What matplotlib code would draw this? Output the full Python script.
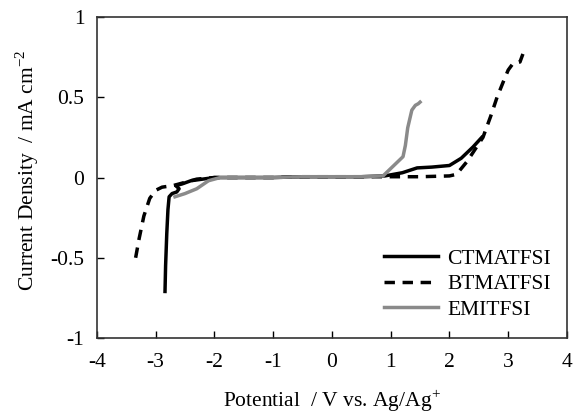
import matplotlib
matplotlib.use("Agg")
import matplotlib.pyplot as plt

plt.rcParams['font.family'] = ['Liberation Serif', 'DejaVu Serif']
plt.rcParams['mathtext.fontset'] = 'custom'
plt.rcParams['mathtext.rm'] = 'Liberation Serif'
plt.rcParams['axes.unicode_minus'] = False

# CTMATFSI (solid black)
ct_x = [-2.84, -2.83, -2.81, -2.79, -2.77, -2.72, -2.64, -2.6, -2.66, -2.55, -2.4, -2.2, -2.0,
        -1.5, -1.0, -0.5, 0.0, 0.5, 0.9, 1.2, 1.45, 1.7, 2.0, 2.2, 2.4, 2.55]
ct_y = [-0.71, -0.55, -0.35, -0.2, -0.12, -0.1, -0.09, -0.07, -0.05, -0.04, -0.02, -0.01, 0.0,
        0.0, 0.0, 0.005, 0.005, 0.005, 0.01, 0.03, 0.06, 0.065, 0.075, 0.12, 0.19, 0.25]

# BTMATFSI (dashed black)
bt_x = [-3.34, -3.28, -3.2, -3.1, -3.0, -2.89, -2.7, -2.5, -2.3, -2.0, -1.5, -1.0, -0.5, 0.0,
        0.5, 1.0, 1.5, 2.0, 2.12, 2.3, 2.57, 2.7, 2.81, 2.92, 3.0, 3.08, 3.2, 3.25]
bt_y = [-0.5, -0.38, -0.24, -0.13, -0.08, -0.06, -0.05, -0.03, -0.01, 0.0, 0.0, 0.0, 0.005,
        0.005, 0.005, 0.005, 0.005, 0.01, 0.02, 0.1, 0.25, 0.38, 0.5, 0.6, 0.67, 0.71, 0.72, 0.77]

# EMITFSI (grey)
em_x = [-2.67, -2.5, -2.3, -2.1, -1.9, -1.5, -1.0, -0.5, 0.0, 0.5, 0.87, 1.04, 1.21, 1.25,
        1.29, 1.36, 1.42, 1.47, 1.5]
em_y = [-0.12, -0.1, -0.07, -0.02, 0.0, 0.0, 0.0, 0.005, 0.005, 0.005, 0.01, 0.07, 0.13, 0.2,
        0.31, 0.42, 0.45, 0.46, 0.47]

xticks = [-4, -3, -2, -1, 0, 1, 2, 3, 4]
yticks = [-1, -0.5, 0, 0.5, 1]
ytick_labels = ['-1', '-0.5', '0', '0.5', '1']

fig = plt.figure(figsize=(5.73, 4.16), dpi=100)
ax = fig.add_axes([0.169, 0.1875, 0.8205, 0.7715])

ax.plot(ct_x, ct_y, color='black', lw=2.5, label='CTMATFSI')
ax.plot(bt_x, bt_y, color='black', lw=2.5, ls=(0, (3, 2.2)), label='BTMATFSI')
ax.plot(em_x, em_y, color='#8a8a8a', lw=2.5, label='EMITFSI')

ax.set_xlim(-4, 4)
ax.set_ylim(-1, 1)
ax.set_xticks(xticks)
ax.set_xticklabels([str(v) for v in xticks])
ax.set_yticks(yticks)
ax.set_yticklabels(ytick_labels)
ax.tick_params(direction='in', labelsize=15.5, length=5, width=1)
ax.tick_params(axis='x', pad=11)
ax.tick_params(axis='y', pad=9)
for s in ax.spines.values():
    s.set_linewidth(1.2)
    s.set_color('#333333')

ax.set_xlabel('Potential  / V vs. Ag/Ag$^{+}$', fontsize=15.5, labelpad=11)
ax.set_ylabel('Current Density  / mA cm$^{-2}$', fontsize=15.5)
ax.yaxis.set_label_coords(-0.118, 0.523)

ax.legend(loc='lower right', frameon=False, fontsize=15.5, handlelength=2.5,
          handletextpad=0.45, labelspacing=0.25, borderaxespad=0.5,
          bbox_to_anchor=(1.008, -0.003))

fig.savefig('out.png', dpi=100)
